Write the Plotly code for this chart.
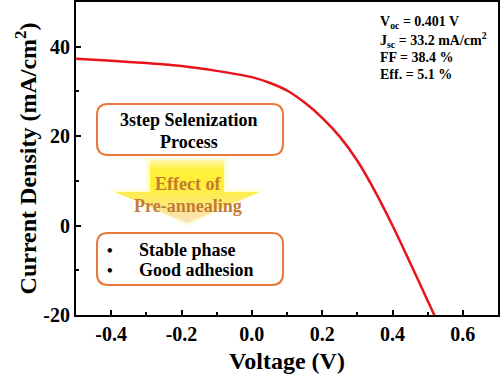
import plotly.graph_objects as go

# ---- data ----
voltage = [-0.5, -0.4, -0.3, -0.2, -0.1, 0.0, 0.05, 0.1, 0.15, 0.2, 0.25, 0.3, 0.35, 0.4, 0.45, 0.5, 0.53]
current = [37.3, 36.85, 36.35, 35.7, 34.6, 33.2, 31.95, 30.2, 27.5, 24.1, 19.9, 14.5, 7.7, 0.0, -8.3, -16.8, -21.9]

x_tickvals = [-0.4, -0.2, 0.0, 0.2, 0.4, 0.6]
x_ticktext = ["-0.4", "-0.2", "0.0", "0.2", "0.4", "0.6"]
y_tickvals = [-20, 0, 20, 40]
y_ticktext = ["-20", "0", "20", "40"]

stats_lines = ["V<sub>oc</sub> = 0.401 V", "J<sub>sc</sub> = 33.2 mA/cm<sup>2</sup>",
               "FF = 38.4 %", "Eff. = 5.1 %"]

W, H = 500, 379
L, R, T, B = 76, 2, 2, 64
XR = [-0.5, 0.7]
YR = [-20, 50]
PW, PH = W - L - R, H - T - B

def px2paper(px, py):
    return (px - L) / PW, (H - B - py) / PH

def px2data(px, py):
    return XR[0] + (px - L) / PW * (XR[1] - XR[0]), YR[0] + (H - B - py) / PH * (YR[1] - YR[0])

def rounded_rect(x0, y0, x1, y1, r):
    def P(px, py):
        a, b = px2paper(px, py)
        return f"{a:.5f},{b:.5f}"
    s = f"M {P(x0 + r, y0)} L {P(x1 - r, y0)} Q {P(x1, y0)} {P(x1, y0 + r)} "
    s += f"L {P(x1, y1 - r)} Q {P(x1, y1)} {P(x1 - r, y1)} "
    s += f"L {P(x0 + r, y1)} Q {P(x0, y1)} {P(x0, y1 - r)} "
    s += f"L {P(x0, y0 + r)} Q {P(x0, y0)} {P(x0 + r, y0)} Z"
    return s

SERIF = "Liberation Serif"
ORANGE = "#E8793A"
TEXTOR = "#C47A36"

fig = go.Figure()

# arrow (decoration) with vertical gradient, plus a soft halo
halo_px = [(146, 157), (228, 157), (228, 189), (266, 189), (187, 226), (109, 189), (146, 189), (146, 157)]
arrow_px = [(150, 160), (224, 160), (224, 192), (260, 192), (187, 223), (115, 192), (150, 192), (150, 160)]
hx = [px2data(*p)[0] for p in halo_px]
hy = [px2data(*p)[1] for p in halo_px]
fig.add_trace(go.Scatter(x=hx, y=hy, mode="lines", fill="toself", line=dict(width=0),
                         fillcolor="rgba(255,245,150,0.35)", hoverinfo="skip", showlegend=False))
ax_ = [px2data(*p)[0] for p in arrow_px]
ay_ = [px2data(*p)[1] for p in arrow_px]
fig.add_trace(go.Scatter(x=ax_, y=ay_, mode="lines", fill="toself", line=dict(width=0),
                         fillgradient=dict(type="vertical",
                                           colorscale=[[0, "#FBE0C4"], [0.35, "#FCEB6A"], [0.6, "#FFF030"], [0.85, "#FFF040"], [1, "#FFF8B0"]]),
                         hoverinfo="skip", showlegend=False))

fig.add_trace(go.Scatter(x=voltage, y=current, mode="lines",
                         line=dict(color="#E8141B", width=2.5, shape="spline", smoothing=0.8),
                         showlegend=False))

shapes = [
    dict(type="path", path=rounded_rect(97, 104, 283, 155, 11), xref="paper", yref="paper",
         line=dict(color=ORANGE, width=2), fillcolor="rgba(255,255,255,0)"),
    dict(type="path", path=rounded_rect(97, 233, 283, 285, 11), xref="paper", yref="paper",
         line=dict(color=ORANGE, width=2), fillcolor="rgba(255,255,255,0)"),
]

anns = []
def ann(text, px, py, size, color="black", xanchor="center"):
    a, b = px2paper(px, py)
    anns.append(dict(text=text, x=a, y=b, xref="paper", yref="paper", showarrow=False,
                     xanchor=xanchor, yanchor="middle",
                     font=dict(family=SERIF, size=size, color=color, weight="bold")))

ann("3step Selenization", 189, 120, 18)
ann("Process", 189, 142, 18)
ann("Effect of", 188, 184, 18, TEXTOR)
ann("Pre-annealing", 188, 206, 18, TEXTOR)
ann("•", 110, 250, 16, xanchor="center")
ann("•", 110, 270, 16, xanchor="center")
ann("Stable phase", 137, 250, 18, xanchor="left")
ann("Good adhesion", 137, 270, 18, xanchor="left")
for i, t in enumerate(stats_lines):
    ann(t, 378, 23 + 17.3 * i, 14, xanchor="left")

axis_common = dict(showline=True, linecolor="black", linewidth=2, mirror=True,
                   ticks="inside", ticklen=5, tickwidth=2, tickcolor="black",
                   showgrid=False, zeroline=False, automargin=False,
                   tickfont=dict(family=SERIF, size=20, color="black", weight="bold"))

fig.update_layout(
    width=W, height=H, margin=dict(l=L, r=R, t=T, b=B, autoexpand=False),
    plot_bgcolor="white", paper_bgcolor="white",
    shapes=shapes, annotations=anns,
    xaxis=dict(range=XR, tickvals=x_tickvals, ticktext=x_ticktext,
               minor=dict(dtick=0.1, tick0=0, ticks="inside", ticklen=3, tickwidth=2, tickcolor="black"),
               title=dict(text="Voltage (V)", font=dict(family=SERIF, size=24, color="black", weight="bold"), standoff=8),
               **axis_common),
    yaxis=dict(range=YR, tickvals=y_tickvals, ticktext=y_ticktext,
               minor=dict(dtick=10, tick0=0, ticks="inside", ticklen=3, tickwidth=2, tickcolor="black"),
               title=dict(text="Current Density (mA/cm<sup>2</sup>)", font=dict(family=SERIF, size=24, color="black", weight="bold"), standoff=0),
               **axis_common),
)

fig.write_html("out.html", config={"displayModeBar": False},
               post_script="document.body.style.margin='0px';")
